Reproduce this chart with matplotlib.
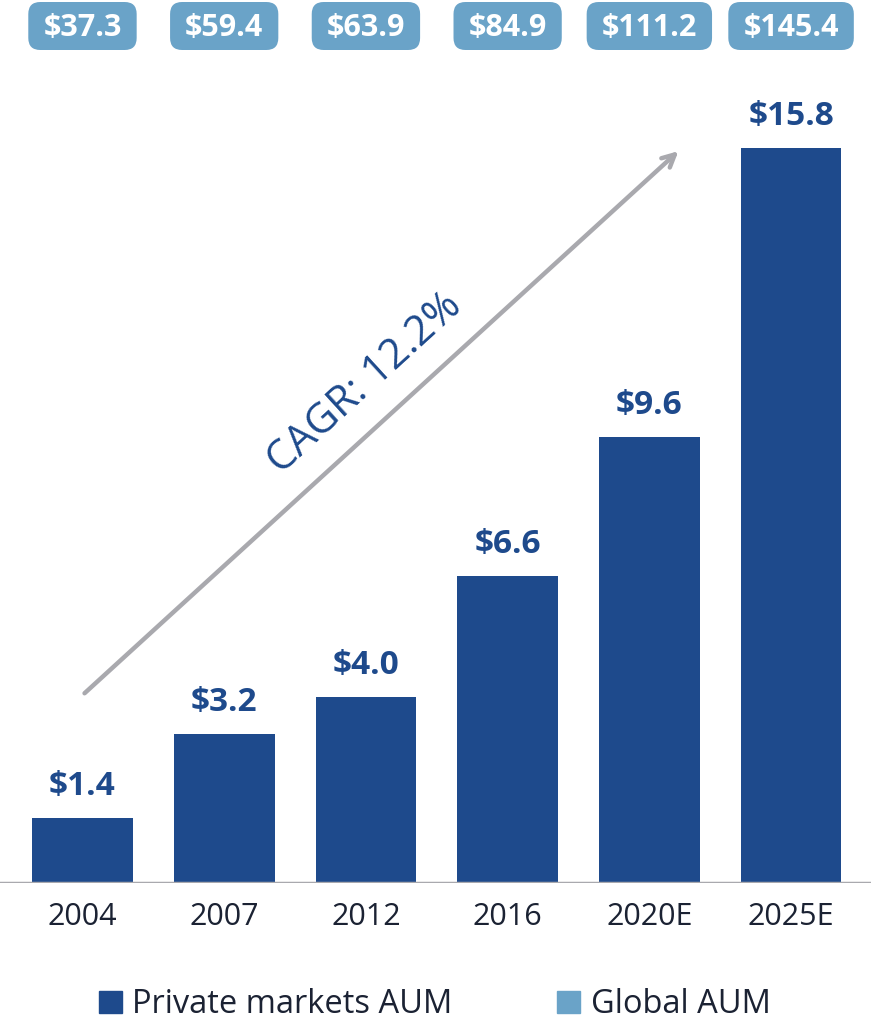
import numpy as np
import matplotlib.pyplot as plt
from matplotlib.patches import Patch, FancyBboxPatch
from matplotlib.transforms import IdentityTransform

plt.rcParams['font.family'] = ['Open Sans', 'DejaVu Sans']

years = ['2004', '2007', '2012', '2016', '2020E', '2025E']
private_aum = [1.4, 3.2, 4.0, 6.6, 9.6, 15.8]
global_aum = [37.3, 59.4, 63.9, 84.9, 111.2, 145.4]
cagr_label = 'CAGR: 12.2%'

dark_blue = '#1e4a8c'
light_blue = '#6aa3c8'
text_dark = '#1b2233'
grey = '#a9a9ae'

fig = plt.figure(figsize=(8.71, 10.24), dpi=100)
ax = fig.add_axes([0, 141 / 1024, 1, 883 / 1024])
ppu = 46.5  # pixels per unit on y

x = np.arange(len(years))
ax.bar(x, private_aum, width=0.71, color=dark_blue, zorder=2)
ax.set_xlim(-0.582, 5.564)
ax.set_ylim(0, 883 / ppu)

# bar value labels
for xi, v in zip(x, private_aum):
    ax.text(xi, v + 23 / ppu, '$%.1f' % v, ha='center', va='baseline',
            fontsize=24, fontweight='bold', color=dark_blue)

# global AUM labels along the top (boxes added after draw)
top_texts = []
for xi, g in zip(x, global_aum):
    t = ax.text(xi, 847 / ppu, '$%.1f' % g, ha='center', va='baseline',
                fontsize=22, fontweight='bold', color='white', zorder=5,
                clip_on=False)
    top_texts.append(t)

# baseline
ax.axhline(0, color=grey, lw=2.5, zorder=3)

# year labels
for xi, yr in zip(x, years):
    ax.text(xi, -42 / ppu, yr, ha='center', va='baseline', fontsize=22,
            color=text_dark, clip_on=False)

# CAGR arrow
ax.annotate('', xy=(4.22, 15.78), xytext=(0.0, 4.04),
            arrowprops=dict(arrowstyle='->,head_length=0.9,head_width=0.45',
                            color=grey, lw=3.2))
ax.text(1.99, 10.73, cagr_label, rotation=42.4, rotation_mode='anchor',
        ha='center', va='center', fontsize=30, color=dark_blue)

for s in ax.spines.values():
    s.set_visible(False)
ax.set_xticks([])
ax.set_yticks([])

handles = [Patch(color=dark_blue, label='Private markets AUM'),
           Patch(color=light_blue, label='Global AUM')]
fig.legend(handles=handles, loc='center', bbox_to_anchor=(0.499, 0.0186), ncol=2,
           frameon=False, fontsize=23.5, handlelength=0.7, handleheight=0.7,
           handletextpad=0.33, columnspacing=3.2, labelcolor=text_dark)

# rounded boxes sized to the text
fig.canvas.draw()
r = fig.canvas.get_renderer()
for t in top_texts:
    bb = t.get_window_extent(r)
    box = FancyBboxPatch((bb.x0 - 15, 1024 - 50), bb.width + 30, 48,
                         boxstyle='round,pad=0,rounding_size=12',
                         fc=light_blue, ec='none', transform=IdentityTransform(),
                         zorder=4, clip_on=False)
    ax.add_patch(box)

fig.savefig('out.png', dpi=100)
